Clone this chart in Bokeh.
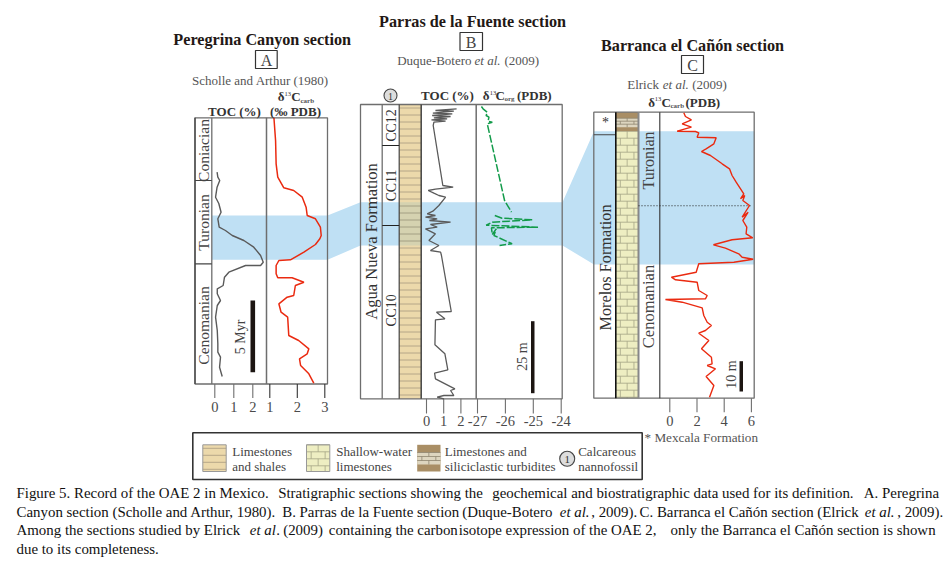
import numpy as np
from math import pi
from bokeh.plotting import figure
from bokeh.models import Range1d
from bokeh.core.properties import value
from bokeh.embed import file_html
from bokeh.resources import INLINE

# ---- data (depth = vertical position in the section)
toc_a_depth = [171.7,176.7,180,186.7,196.7,203,211.7,218.3,226.7,230,235,240,246.7,255,261.7,265,265,271.7,276.7,285,288.3,293.3,300,305,316.7,330,343.3,351.7,356.7,366.7,376]
toc_a = [.12,.16,.26,.12,.04,.21,.33,.16,.23,.56,.92,1.53,2.05,2.41,2.55,2.41,1.62,.74,.51,.44,.13,.13,.3,.13,.04,.13,.16,.16,.3,.25,.39]
c13_a_depth = [117.3,140,163.3,176.7,187.3,190,196.7,206.7,215,218.3,226.7,235,238.3,244,251.7,259.3,260,265,273.3,277.3,277.3,281.7,285,295,296.7,303.3,311.7,316.7,335,340,348.3,353.3,358.3,365,373.3,382.7]
c13_a = [1.15,1.21,1.23,1.29,1.51,1.87,2.18,2.32,2.36,2.66,2.84,2.87,2.82,2.66,2.24,1.75,1.33,1.23,1.23,1.29,1.81,2.24,1.93,1.87,1.63,1.33,1.41,1.65,1.69,2.05,2.42,2.36,2.08,2.12,2.42,2.6]
toc_b_depth = [108.3,110,110.7,112.7,113.3,115,116,117.3,118.3,119.3,120.7,121.7,125,185,186.7,188.7,190,192.7,195,196.7,205,210.7,213.3,215,216.7,218.3,220,221.7,224,226.7,228.3,233.3,240,245,250,251.7,255,311,311.7,318.3,319.3,344.3,353.3,369.3,372.7,378.3,388.3,390,395,395,396.7,398.3]
toc_b = [1.75,.52,1.59,.37,1.5,.33,1.4,.43,1.2,.29,1.11,.43,.39,.95,1.55,.52,.1,.43,.72,1.11,.72,.37,.04,.52,-.06,.62,.17,1.4,.23,.62,-.06,.52,.14,.72,.23,.82,.87,1.44,.58,1.07,.52,.49,1.07,1.24,.47,.52,1.65,1.4,1.59,1.01,.62,1.01]
c13_b_depth = [106,108.3,111.7,115,116.7,120.7,121.7,123.3,200,211.7,213,215,217.7,219.3,221.7,224.7,226.7,227.3,234,228.3,235,243.3,245]
c13_b = [-26.86,-26.8,-26.65,-26.69,-26.59,-26.62,-26.47,-26.65,-26.03,-25.78,float("nan"),-26.38,-26.12,-25.04,-26.47,-26.69,-24.83,-26.5,-26.47,-26.33,-26.41,-25.76,-26.21]
c13_c_depth = [112.3,116,119.3,123.3,126.7,130.7,131,132.3,136.7,137.3,143.3,148.3,151,155,163.3,168.3,175,181.7,193.3,198.3,195,200,205,216.7,211.7,220,226.7,233.3,237.3,239.3,244.3,247.7,253.3,256.7,258.7,261.7,263.3,271.7,276.7,279.3,281.7,290,295,298.3,299,301.7,307.3,315,321.7,325,330,332.7,340,348.3,356.7,363.3,365,368.3,376,385,396.7]
c13_c = [1.03,1.15,1.59,.91,1.59,.54,1.89,2.13,2.01,3.41,3.24,2.67,2.33,2.99,3.85,4.39,4.58,4.88,5.44,5.2,5.51,5.37,5.86,5.32,5.76,5.37,5.66,5.61,6.1,4.58,3.21,4.09,5.07,5.32,6.13,4.71,2.13,1.94,.12,.42,2.01,2.13,2.75,2.62,-.32,.91,2.38,2.5,2.75,3.06,2.62,2.13,2.87,2.33,3.06,3.11,2.75,3.36,2.67,3.24,2.92]

ticks_toc_a = [0, 1, 2]
ticks_c13_a = [1, 2, 3]
ticks_toc_b = [0, 1, 2]
ticks_c13_b = [-27, -26, -25, -24]
ticks_c13_c = [0, 2, 4, 6]

caption_lines = [
    [(16, "Figure 5. Record of the OAE 2 in Mexico.", "normal"), (277.7, "Stratigraphic sections showing the", "normal"),
     (491.7, "geochemical and biostratigraphic data used for its definition.", "normal"), (863.3, "A. Peregrina", "normal")],
    [(16, "Canyon section (Scholle and Arthur, 1980).", "normal"), (281.7, "B. Parras de la Fuente section", "normal"),
     (461.7, "(Duque-Botero", "normal"), (559.3, "et al.", "italic"), (590.7, ", 2009).", "normal"),
     (639, "C. Barranca el Cañón section (Elrick", "normal"), (864.3, "et al.", "italic"), (896.7, ", 2009).", "normal")],
    [(16, "Among the sections studied by Elrick", "normal"), (249.3, "et al", "italic"), (275.7, ".", "normal"), (282.7, "(2009)", "normal"),
     (328.3, "containing the carbon", "normal"), (458.3, "isotope expression of the OAE 2,", "normal"),
     (670, "only the Barranca el Cañón section is shown", "normal")],
    [(16, "due to its completeness.", "normal")],
]

# ---- canvas
X0, X1, Y0, Y1 = 0, 946, 0, 560
p = figure(width=946, height=560, x_range=Range1d(X0, X1), y_range=Range1d(Y1, Y0),
           output_backend="svg", toolbar_location=None, min_border=0,
           x_axis_location=None, y_axis_location=None, outline_line_color=None,
           background_fill_color="white", border_fill_color="white")
p.grid.visible = False

def scale(name, at, v0, per_unit):
    p.extra_x_ranges[name] = Range1d(v0 + (X0 - at) / per_unit, v0 + (X1 - at) / per_unit)

scale("toc_a", 214.3, 0, 19.0)
scale("c13_a", 269.3, 1, 27.5)
scale("toc_b", 426.0, 0, 17.2)
scale("c13_b", 477.0, -27, 27.9)
scale("c13_c", 669.3, 0, 13.6)

SERIF = "Liberation Serif"
DARK = "#333333"
GREY = "#6e6e6e"

def label(x, y, txt, size=12, color=DARK, style="normal", align="left", angle=0.0, rng="default"):
    p.text(x=[x], y=[y], text=[txt], text_font=value(SERIF), text_font_size=f"{size}px",
           text_font_style=style, text_color=color, text_align=align, text_baseline="middle",
           angle=angle, x_range_name=rng)

def box(l, r, t, b, fill=None, line=None, w=1.0):
    p.quad(left=[l], right=[r], top=[t], bottom=[b], fill_color=fill, line_color=line, line_width=w,
           fill_alpha=1 if fill else 0)

def hl(x0, x1, y, color=DARK, w=1.0, dash="solid"):
    p.segment(x0=[x0], x1=[x1], y0=[y], y1=[y], line_color=color, line_width=w, line_dash=dash)

def vl(x, y0, y1, color=DARK, w=1.0):
    p.segment(x0=[x], x1=[x], y0=[y0], y1=[y1], line_color=color, line_width=w)

def axis_ticks(ticks, rng, y0, y1, ylab, color=GREY):
    p.segment(x0=ticks, x1=ticks, y0=[y0] * len(ticks), y1=[y1] * len(ticks),
              line_color=color, line_width=1.1, x_range_name=rng)
    p.text(x=ticks, y=[ylab] * len(ticks), text=[str(t) for t in ticks], text_font=value(SERIF),
           text_font_size="14.5px", text_color="#4a4a4a", text_align="center", text_baseline="middle",
           x_range_name=rng)

def shale(l, r, t, b, step=7.0, fill="#ecd9ab", col="#a89a80"):
    box(l, r, t, b, fill=fill)
    ys = np.arange(t + step / 2, b, step)
    p.segment(x0=[l] * len(ys), x1=[r] * len(ys), y0=ys, y1=ys, line_color=col, line_width=0.8)

def brick(l, r, t, b, step=7.0, fill="#eeeec2", col="#a5a585"):
    box(l, r, t, b, fill=fill)
    ys = np.arange(t, b, step)
    p.segment(x0=[l] * len(ys), x1=[r] * len(ys), y0=ys, y1=ys, line_color=col, line_width=0.8)
    w = r - l
    for i, y in enumerate(ys):
        e = min(y + step, b)
        xs = [l + w / 2] if i % 2 == 0 else [l + w / 5, l + 4 * w / 5]
        p.segment(x0=xs, x1=xs, y0=[y] * len(xs), y1=[e] * len(xs), line_color=col, line_width=0.8)

BLUE = "#bfe0f4"
TITLE = 16.2
SMALL = 13
LEG = 13
# ---- correlation band
p.patch(x=[211.5, 327, 360, 562, 593.5, 753.7, 753.7, 593.5, 562, 360, 327, 211.5],
        y=[215, 215, 201.7, 201.7, 130.7, 130.7, 264, 264, 245, 245, 259.3, 259.3],
        fill_color=BLUE, line_color=None)

# ---- panel A
box(194.5, 327, 117.3, 383.5, line=GREY, w=1.3)
vl(194.5, 117.3, 383.5, "#444444", 1.3)
vl(211.3, 117.3, 383.5, GREY, 1.3)
vl(266, 117.3, 383.5, GREY, 1.5)
hl(194.5, 211.3, 180, "#444444", 1.2)
hl(194.5, 211.3, 263.3, "#444444", 1.2)
axis_ticks(ticks_toc_a, "toc_a", 383.5, 397.5, 406)
axis_ticks(ticks_c13_a, "c13_a", 383.5, 397.5, 406, DARK)
p.line(toc_a, toc_a_depth, line_color="#5a5a5a", line_width=1.4, x_range_name="toc_a")
p.line(c13_a, c13_a_depth, line_color="#ea2a10", line_width=1.5, x_range_name="c13_a")
box(250, 254.6, 300, 371.7, fill="#1c1512")
label(240, 336.5, "5 Myr", 14, "#444444", align="center", angle=pi / 2)
label(203, 150, "Coniacian", 15.5, "#444444", align="center", angle=pi / 2)
label(203, 222, "Turonian", 15.5, "#444444", align="center", angle=pi / 2)
label(203, 325, "Cenomanian", 15.5, "#444444", align="center", angle=pi / 2)
label(261.7, 39.5, "Peregrina Canyon section", TITLE, "#231815", "bold", "center")
box(255, 276.7, 50, 68, line=DARK, w=1.2)
label(266, 59.5, "A", 16, "#444444", align="center")
label(260, 80, "Scholle and Arthur (1980)", SMALL, "#555555", align="center")
label(234, 111, "TOC (%)", 13, DARK, "bold", "center")
label(295, 111, "(‰ PDB)", 13, DARK, "bold", "center")
label(277.3, 96, "δ", 13, DARK, "bold")
label(284, 93, "13", 6.5, DARK)
label(290.7, 96, "C", 13, DARK, "bold")
label(300, 100, "carb", 7, "#555555", "bold")

# ---- panel B
shale(398.7, 420.7, 104, 398.3)
box(398.7, 420.7, 201.7, 245, fill="#d5d2b0")
ys_b = np.arange(107.5, 398, 7.0)
ys_b = ys_b[(ys_b > 201.7) & (ys_b < 245)]
p.segment(x0=[398.7] * len(ys_b), x1=[420.7] * len(ys_b), y0=ys_b, y1=ys_b, line_color="#98937a", line_width=0.8)
box(360, 561.7, 104, 398.3, line=GREY, w=1.3)
vl(381.7, 104, 398.3, GREY, 1.3)
vl(398.7, 104, 398.3, "#444444", 1.2)
vl(420.7, 104, 398.3, "#444444", 1.5)
vl(475.7, 104, 398.3, GREY, 1.5)
hl(381.7, 398.7, 145, "#222222", 1.2)
hl(381.7, 398.7, 225, "#222222", 1.2)
axis_ticks(ticks_toc_b, "toc_b", 398.3, 413, 420.5)
axis_ticks(ticks_c13_b, "c13_b", 398.3, 413, 420.5)
p.line(toc_b, toc_b_depth, line_color="#5a5a5a", line_width=1.3, x_range_name="toc_b")
p.line(c13_b, c13_b_depth, line_color="#129b4a", line_width=1.5, line_dash="8 2", x_range_name="c13_b")
box(530.5, 534, 320.7, 392.7, fill="#1c1512")
label(521.7, 356, "25 m", 14, "#444444", align="center", angle=pi / 2)
label(371, 241, "Agua Nueva Formation", 16.6, "#333333", align="center", angle=pi / 2)
label(391, 125, "CC12", 13.8, "#333333", align="center", angle=pi / 2)
label(391, 185, "CC11", 13.8, "#333333", align="center", angle=pi / 2)
label(391, 310, "CC10", 13.8, "#333333", align="center", angle=pi / 2)
label(472, 21.5, "Parras de la Fuente section", TITLE, "#231815", "bold", "center")
box(459.5, 482, 32, 50, line=DARK, w=1.2)
label(470.7, 41.5, "B", 16, "#444444", align="center")
label(396.7, 60, "Duque-Botero", SMALL, "#555555")
label(474, 60, "et al.", SMALL, "#555555", "italic")
label(504, 60, "(2009)", SMALL, "#555555")
p.scatter(x=[390], y=[95], size=13, fill_color="#dddddd", line_color="#444444", line_width=1.1)
label(390, 95.5, "1", 10, "#333333", align="center")
label(447, 95, "TOC (%)", 13, DARK, "bold", "center")
label(482.3, 95, "δ", 13, DARK, "bold")
label(489.3, 92, "13", 6.5, DARK)
label(495, 95, "C", 13, DARK, "bold")
label(504, 98.5, "org", 7, "#555555", "bold")
label(516.5, 95, "(PDB)", 13, DARK, "bold")

# ---- panel C
brick(615.3, 638, 130.7, 397.7)
box(615.3, 638, 111.7, 130.7, fill="#a98e65")
brick(615.3, 638, 117.7, 126.7, step=3.0, fill="#ddd5bf", col="#8f8570")
box(593.3, 753.7, 111.7, 397.7, line=GREY, w=1.3)
hl(593.3, 615.3, 134.3, "#444444", 1.1)
vl(615.3, 111.7, 397.7, "#111111", 1.6)
vl(638, 111.7, 397.7, "#888888", 2.0)
vl(659.3, 111.7, 397.7, "#333333", 1.1)
hl(638, 752, 205.3, "#222222", 1.1, "1 2")
axis_ticks(ticks_c13_c, "c13_c", 397.7, 411.7, 420.5)
p.line(c13_c, c13_c_depth, line_color="#ea2a10", line_width=1.4, x_range_name="c13_c")
box(739, 742.5, 360.7, 391, fill="#1c1512")
label(730.7, 374, "10 m", 14, "#444444", align="center", angle=pi / 2)
label(605, 267, "Morelos Formation", 16.3, "#333333", align="center", angle=pi / 2)
label(605, 122, "*", 14, "#333333", align="center")
label(648, 160, "Turonian", 16, "#444444", align="center", angle=pi / 2)
label(648, 306, "Cenomanian", 16.5, "#444444", align="center", angle=pi / 2)
label(692, 45, "Barranca el Cañón section", TITLE, "#231815", "bold", "center")
box(681, 703, 55, 73, line=DARK, w=1.2)
label(692, 64.5, "C", 16, "#444444", align="center")
label(626.7, 84, "Elrick", SMALL, "#555555")
label(662.3, 84, "et al.", SMALL, "#555555", "italic")
label(691.7, 84, "(2009)", SMALL, "#555555")
label(647.7, 101.7, "δ", 13, DARK, "bold")
label(654.3, 98.7, "13", 6.5, DARK)
label(661, 101.7, "C", 13, DARK, "bold")
label(670, 105, "carb", 7, "#555555", "bold")
label(685, 101.7, "(PDB)", 13, DARK, "bold")

# ---- legend
box(192.3, 641.7, 432.3, 479, line="#333333", w=1.6)
shale(202.3, 225.7, 444.3, 471, step=7.0)
box(202.3, 225.7, 444.3, 471, line="#999999", w=1.0)
label(231.7, 451, "Limestones", LEG, "#444444")
label(231.7, 465.5, "and shales", LEG, "#444444")
brick(306, 329.3, 444.3, 471)
box(306, 329.3, 444.3, 471, line="#999999", w=1.0)
label(335.7, 451, "Shallow-water", LEG, "#444444")
label(335.7, 465.5, "limestones", LEG, "#444444")
box(416.7, 440, 444.3, 471, fill="#a98e65")
brick(416.7, 440, 452, 464, step=4.0, fill="#ddd5bf", col="#8f8570")
label(444.3, 451, "Limestones and", LEG, "#444444")
label(444.3, 465.5, "siliciclastic turbidites", LEG, "#444444")
p.scatter(x=[566.7], y=[458.3], size=15, fill_color="#dddddd", line_color="#444444", line_width=1.1)
label(566.7, 459, "1", 11, "#333333", align="center")
label(577.7, 451, "Calcareous", LEG, "#444444")
label(577.7, 465.5, "nannofossil", LEG, "#444444")
label(644, 437, "* Mexcala Formation", 13.2, "#555555")

# ---- caption
for row, y in zip(caption_lines, [492.7, 511, 529.5, 548]):
    for x, txt, style in row:
        label(x, y, txt, 14.9, "#111111", style)

open("out.html", "w").write(file_html(p, INLINE))
